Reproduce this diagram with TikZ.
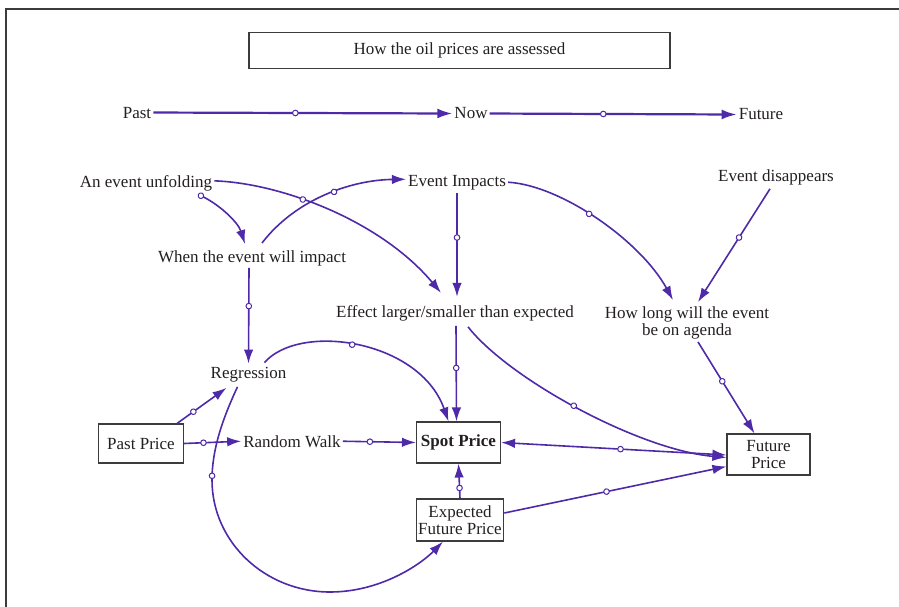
\documentclass[tikz,border=0pt]{standalone}
\usepackage{fontspec}
\setmainfont{Liberation Serif}
\usetikzlibrary{arrows.meta,decorations.markings,calc}
\definecolor{purp}{RGB}{78,42,168}
\definecolor{ink}{RGB}{35,31,32}
\definecolor{framegray}{RGB}{60,60,60}
\begin{document}
\begin{tikzpicture}[x=1pt,y=-1pt,
  lbl/.style={font=\fontsize{17}{16.5}\selectfont, text=ink, inner sep=2pt, anchor=base},
  box/.style={draw=framegray, line width=1.1pt, font=\fontsize{17}{16.5}\selectfont, text=ink, inner sep=2pt, align=center},
  link/.style={draw=purp, line width=1.6pt, -{Latex[length=14pt,width=9.5pt]}},
  timeline/.style={draw=purp, line width=2.2pt, -{Latex[length=15pt,width=10pt]}},
  hub/.style={postaction={decorate, decoration={markings, mark=at position #1 with {\draw[purp, fill=white, line width=1pt] (0,0) circle (2.8pt);}}}}
]
\useasboundingbox (0,0) rectangle (899,607);
\draw[framegray, line width=1.4pt] (6,607) -- (6,9) -- (899,9);

% nodes
\node[box, minimum width=421pt, minimum height=36pt] (title) at (459.5,50.5) {How the oil prices are assessed};
\node[lbl] (past) at (137,118) {Past};
\node[lbl] (now) at (471,119) {Now};
\node[lbl] (future) at (761,120) {Future};
\node[lbl] (unfold) at (146,187) {An event unfolding};
\node[lbl] (impacts) at (457,186) {Event Impacts};
\node[lbl] (disappears) at (776,181) {Event disappears};
\node[lbl] (when) at (252,262) {When the event will impact};
\node[lbl] (effect) at (455,317) {Effect larger/smaller than expected};
\node[lbl, anchor=center, align=center, font=\fontsize{17}{17}\selectfont] (howlong) at (687,322.5) {How long will the event\\be on agenda};
\node[lbl] (regression) at (248.5,378) {Regression};
\node[lbl] (randomwalk) at (292,447) {Random Walk};
\node[box, minimum width=85pt, minimum height=39pt] (pastprice) at (141,443.5) {Past Price};
\node[box, minimum width=84pt, minimum height=41pt, font=\fontsize{17}{16.5}\selectfont\bfseries] (spot) at (458.5,442.5) {Spot Price};
\node[box, minimum width=86pt, minimum height=42pt] (expected) at (460,520) {Expected\\Future Price};
\node[box, minimum width=83pt, minimum height=41pt] (futureprice) at (768.5,454.5) {Future\\Price};

% timeline
\draw[timeline, hub=0.475] (past.east) -- (now.west);
\draw[timeline, hub=0.46] (now.east) -- (future.west);

% event links
\draw[link, hub=0.03] ([xshift=53pt,yshift=-2pt]unfold.south) .. controls (218,203) and (238,222) .. ([xshift=-7pt,yshift=4pt]when.north);
\draw[link, hub=0.35] ([yshift=2pt]unfold.east) .. controls (280,183) and (380,220) .. ([xshift=-14pt,yshift=10pt]effect.north);
\draw[link, hub=0.55] ([xshift=10pt,yshift=5pt]when.north) .. controls (295,200) and (350,180) .. ([yshift=3pt]impacts.west);
\draw[link, hub=0.43] ([yshift=-1pt]impacts.south) -- ([xshift=2pt,yshift=6pt]effect.north);
\draw[link, hub=0.42] (impacts.east) .. controls (560,185) and (640,240) .. ([xshift=-14pt,yshift=4pt]howlong.north);
\draw[link, hub=0.43] ([xshift=-6pt,yshift=-2pt]disappears.south) -- ([xshift=11pt,yshift=2pt]howlong.north);
\draw[link, hub=0.43] ([xshift=11pt,yshift=-1pt]howlong.south) -- ([xshift=-14pt]futureprice.north);
\draw[link, hub=0.4] ([xshift=-3pt]when.south) -- ([yshift=1pt]regression.north);

% price links
\draw[link, hub=0.33] ([xshift=-7pt]pastprice.north east) -- ([xshift=18pt,yshift=-4pt]regression.south west);
\draw[link, hub=0.42] ([xshift=-24pt,yshift=2pt]regression.north east) .. controls (300,322) and (420,340) .. ([xshift=-10pt]spot.north);
\draw[link, hub=0.23] ([xshift=-11pt,yshift=-3pt]regression.south) .. controls (222,420) and (212,450) .. (212,480) .. controls (212,542) and (265,592) .. (330,592) .. controls (380,592) and (420,565) .. ([xshift=-17pt]expected.south);
\draw[link, hub=0.34] (pastprice.east) -- (randomwalk.west);
\draw[link, hub=0.37] (randomwalk.east) -- (spot.west);
\draw[link, hub=0.44] ([xshift=1pt,yshift=-3pt]effect.south) -- ([xshift=-2pt]spot.north);
\draw[link, hub=0.45] ([xshift=13pt,yshift=-4pt]effect.south) .. controls (510,380) and (640,450) .. ([yshift=-3pt]futureprice.west);
\draw[link, {Latex[length=14pt,width=9.5pt]}-{Latex[length=14pt,width=9.5pt]}, hub=0.53] (spot.east) -- ([yshift=-0.5pt]futureprice.west);
\draw[link, hub=0.3] (expected.north) -- (spot.south);
\draw[link, hub=0.46] ([yshift=7pt]expected.east) -- ([yshift=-12pt]futureprice.west);
\end{tikzpicture}
\end{document}
